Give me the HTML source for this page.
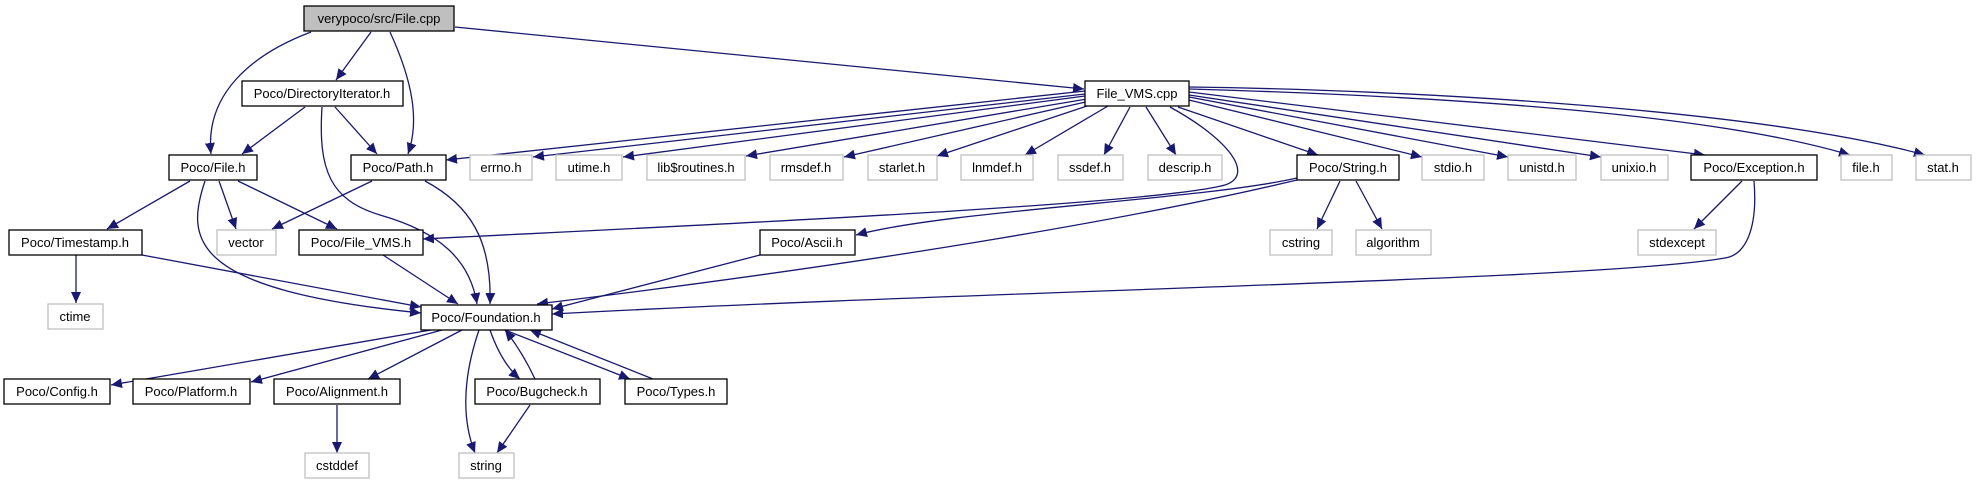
<!DOCTYPE html>
<html><head><meta charset="utf-8"><style>
html,body{margin:0;padding:0;background:#fff;}
svg{display:block;}
text{font-family:"Liberation Sans",sans-serif;font-size:13px;fill:#000;}
</style></head><body>
<svg width="1976" height="485" viewBox="0 0 1976 485" xmlns="http://www.w3.org/2000/svg">
<defs>
<marker id="a" markerUnits="userSpaceOnUse" markerWidth="12" markerHeight="10" refX="11" refY="5" orient="auto">
<path d="M0,0 L11,5 L0,10 Z" fill="#191970"/>
</marker>
</defs>
<g fill="none" stroke="#191970" stroke-width="1.3" marker-end="url(#a)">
<!-- File.cpp -->
<path d="M311,32 C250,55 205,95 211,154"/>
<path d="M371,32 L336,80"/>
<path d="M390,32 C412,80 420,120 408,154"/>
<path d="M455,27 L1084,89"/>
<!-- DirectoryIterator -->
<path d="M305,107 L242,154"/>
<path d="M335,107 L377,154"/>
<path d="M322,107 C318,170 330,200 380,215 C440,232 470,260 477,304"/>
<!-- File.h -->
<path d="M190,181 L107,229"/>
<path d="M219,181 L236,229"/>
<path d="M238,181 L337,229"/>
<path d="M205,181 C185,240 190,290 421,313"/>
<!-- Timestamp -->
<path d="M76,255 L76,303"/>
<path d="M142,255 L421,307"/>
<!-- File_VMS.h -->
<path d="M383,255 L458,304"/>
<!-- Path.h -->
<path d="M372,181 L272,229"/>
<path d="M425,181 C470,205 492,240 490,304"/>
<!-- File_VMS.cpp -->
<path d="M1085,91 L446,160"/>
<path d="M1085,94 L533,157"/>
<path d="M1085,96 L623,157"/>
<path d="M1087,99 L746,156"/>
<path d="M1090,101 L844,157"/>
<path d="M1096,103 L937,156"/>
<path d="M1108,106 L1025,155"/>
<path d="M1130,107 L1104,155"/>
<path d="M1146,107 L1176,155"/>
<path d="M1170,107 C1230,140 1255,175 1225,185 C1150,205 700,225 423,239"/>
<path d="M1178,107 L1318,155"/>
<path d="M1189,100 L1422,157"/>
<path d="M1189,97 L1508,157"/>
<path d="M1189,95 L1601,157"/>
<path d="M1189,92 L1705,155"/>
<path d="M1189,89 C1400,95 1700,110 1850,155"/>
<path d="M1189,87 C1420,90 1760,110 1925,155"/>
<!-- String.h -->
<path d="M1297,178 C1200,200 950,210 856,235"/>
<path d="M1297,180 C1150,215 900,260 537,304"/>
<path d="M1340,181 L1317,229"/>
<path d="M1356,181 L1382,229"/>
<!-- Ascii -->
<path d="M760,255 L552,309"/>
<!-- Exception -->
<path d="M1742,181 L1694,229"/>
<path d="M1754,181 C1758,230 1745,255 1725,258 C1600,280 1000,290 552,314"/>
<!-- Foundation -->
<path d="M431,330 L111,385"/>
<path d="M442,330 L251,382"/>
<path d="M462,330 L368,379"/>
<path d="M479,330 C462,380 462,420 475,453"/>
<path d="M490,330 C497,350 507,368 520,379"/>
<path d="M535,379 C527,362 517,345 505,330"/>
<path d="M505,330 L630,379"/>
<path d="M653,379 L530,330"/>
<path d="M337,405 L337,453"/>
<path d="M530,405 L497,453"/>
</g>
<g stroke-width="1.3">
<rect x="304" y="6" width="150" height="25" fill="#bfbfbf" stroke="#000"/>
<text x="379" y="23" text-anchor="middle">verypoco/src/File.cpp</text>
</g>
<g fill="#fff" stroke="#000" stroke-width="1.3">
<rect x="242" y="81" width="161" height="25"/>
<rect x="169" y="155" width="88" height="25"/>
<rect x="351" y="155" width="95" height="25"/>
<rect x="9" y="230" width="133" height="25"/>
<rect x="299" y="230" width="124" height="25"/>
<rect x="421" y="305" width="131" height="25"/>
<rect x="4" y="379" width="106" height="25"/>
<rect x="133" y="379" width="117" height="25"/>
<rect x="274" y="379" width="126" height="25"/>
<rect x="475" y="379" width="125" height="25"/>
<rect x="625" y="379" width="102" height="25"/>
<rect x="1085" y="81" width="104" height="25"/>
<rect x="1297" y="155" width="102" height="25"/>
<rect x="760" y="230" width="95" height="25"/>
<rect x="1691" y="155" width="126" height="25"/>
</g>
<g fill="#fff" stroke="#bfbfbf" stroke-width="1.3">
<rect x="470" y="155" width="62" height="25"/>
<rect x="556" y="155" width="66" height="25"/>
<rect x="647" y="155" width="98" height="25"/>
<rect x="770" y="155" width="73" height="25"/>
<rect x="868" y="155" width="69" height="25"/>
<rect x="961" y="155" width="72" height="25"/>
<rect x="1058" y="155" width="65" height="25"/>
<rect x="1148" y="155" width="74" height="25"/>
<rect x="1422" y="155" width="62" height="25"/>
<rect x="1508" y="155" width="68" height="25"/>
<rect x="1601" y="155" width="67" height="25"/>
<rect x="1841" y="155" width="51" height="25"/>
<rect x="1916" y="155" width="55" height="25"/>
<rect x="217" y="230" width="59" height="25"/>
<rect x="48" y="304" width="55" height="25"/>
<rect x="1270" y="230" width="62" height="25"/>
<rect x="1356" y="230" width="75" height="25"/>
<rect x="1638" y="230" width="78" height="25"/>
<rect x="305" y="453" width="64" height="25"/>
<rect x="459" y="453" width="55" height="25"/>
</g>
<g text-anchor="middle">
<text x="322" y="98">Poco/DirectoryIterator.h</text>
<text x="213" y="172">Poco/File.h</text>
<text x="398" y="172">Poco/Path.h</text>
<text x="75" y="247">Poco/Timestamp.h</text>
<text x="361" y="247">Poco/File_VMS.h</text>
<text x="486" y="322">Poco/Foundation.h</text>
<text x="57" y="396">Poco/Config.h</text>
<text x="191" y="396">Poco/Platform.h</text>
<text x="337" y="396">Poco/Alignment.h</text>
<text x="537" y="396">Poco/Bugcheck.h</text>
<text x="676" y="396">Poco/Types.h</text>
<text x="1137" y="98">File_VMS.cpp</text>
<text x="1348" y="172">Poco/String.h</text>
<text x="807" y="247">Poco/Ascii.h</text>
<text x="1754" y="172">Poco/Exception.h</text>
<text x="501" y="172">errno.h</text>
<text x="589" y="172">utime.h</text>
<text x="696" y="172">lib$routines.h</text>
<text x="806" y="172">rmsdef.h</text>
<text x="902" y="172">starlet.h</text>
<text x="997" y="172">lnmdef.h</text>
<text x="1090" y="172">ssdef.h</text>
<text x="1185" y="172">descrip.h</text>
<text x="1453" y="172">stdio.h</text>
<text x="1542" y="172">unistd.h</text>
<text x="1634" y="172">unixio.h</text>
<text x="1866" y="172">file.h</text>
<text x="1943" y="172">stat.h</text>
<text x="246" y="247">vector</text>
<text x="75" y="321">ctime</text>
<text x="1301" y="247">cstring</text>
<text x="1393" y="247">algorithm</text>
<text x="1677" y="247">stdexcept</text>
<text x="337" y="470">cstddef</text>
<text x="486" y="470">string</text>
</g>
</svg>
</body></html>
